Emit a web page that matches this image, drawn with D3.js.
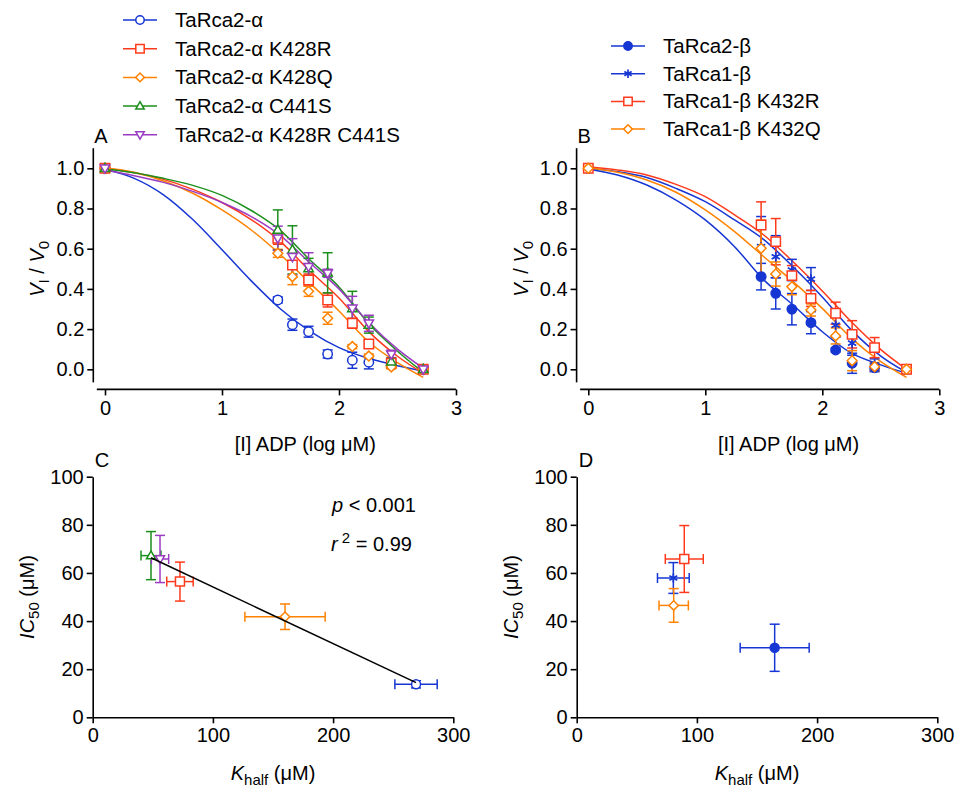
<!DOCTYPE html>
<html>
<head>
<meta charset="utf-8">
<script src="https://cdn.jsdelivr.net/npm/d3@7"></script>
<style>
  body { margin: 0; background: #fff; }
  svg { font-family: "Liberation Sans", Arial, Helvetica, sans-serif; }
</style>
</head>
<body>
<svg id="chart" width="955" height="788"></svg>
<script>
// ---- data ----
// inhibitor concentrations, log uM (first point = no ADP, plotted at 0)
const logADP = [0, 1.477, 1.602, 1.740, 1.903, 2.114, 2.255, 2.447, 2.720];
// x positions where the fitted curves were sampled
const fitX = [0, 0.25, 0.5, 0.75, 1.0, 1.25, 1.5, 1.75, 2.0, 2.25, 2.5, 2.72];

// panel A : TaRca2-alpha variants
const a2Y     = [1, 0.345, 0.222, 0.187, 0.076, 0.045, 0.035, 0.022, 0];
const a2Err   = [0, 0.015, 0.028, 0.027, 0.02, 0.04, 0.033, 0.01, 0.01];
const a2Fit   = [0.995, 0.95, 0.868, 0.745, 0.595, 0.44, 0.30, 0.19, 0.108, 0.055, 0.018, -0.008];

const k428rY   = [1, 0.652, 0.519, 0.444, 0.345, 0.229, 0.126, 0.03, 0];
const k428rErr = [0, 0.03, 0.06, 0.03, 0.035, 0.025, 0.02, 0.01, 0.01];
const k428rFit = [1.0, 0.978, 0.945, 0.895, 0.83, 0.745, 0.635, 0.49, 0.355, 0.19, 0.065, -0.02];

const k428qY   = [1, 0.577, 0.461, 0.388, 0.254, 0.113, 0.066, 0.012, 0];
const k428qErr = [0, 0.02, 0.04, 0.025, 0.03, 0.01, 0.01, 0.01, 0.01];
const k428qFit = [1.003, 0.98, 0.937, 0.876, 0.793, 0.693, 0.57, 0.43, 0.29, 0.138, 0.033, -0.04];

const c441sY   = [1, 0.693, 0.594, 0.502, 0.48, 0.303, 0.22, 0.038, 0];
const c441sErr = [0, 0.1, 0.12, 0.05, 0.1, 0.085, 0.04, 0.02, 0.01];
const c441sFit = [0.997, 0.978, 0.95, 0.915, 0.865, 0.79, 0.69, 0.545, 0.41, 0.23, 0.09, -0.015];

const dblY   = [1, 0.652, 0.56, 0.51, 0.478, 0.303, 0.229, 0.075, 0];
const dblErr = [0, 0.06, 0.09, 0.07, 0.02, 0.06, 0.04, 0.02, 0.01];
const dblFit = [0.99, 0.963, 0.93, 0.885, 0.83, 0.76, 0.665, 0.53, 0.40, 0.235, 0.10, 0.005];

// panel B : TaRca-beta variants
const b2Y   = [1, 0.461, 0.378, 0.299, 0.232, 0.096, 0.03, 0.008, 0];
const b2Err = [0, 0.066, 0.078, 0.078, 0.055, 0.01, 0.05, 0.02, 0.01];
const b2Fit = [0.997, 0.967, 0.917, 0.842, 0.743, 0.61, 0.445, 0.32, 0.187, 0.08, 0.022, -0.02];

const b1Y   = [1, 0.61, 0.56, 0.494, 0.449, 0.22, 0.13, 0.022, 0];
const b1Err = [0, 0.15, 0.105, 0.053, 0.057, 0.06, 0.06, 0.03, 0.02];
const b1Fit = [1.0, 0.983, 0.954, 0.90, 0.834, 0.743, 0.645, 0.51, 0.36, 0.195, 0.066, -0.015];

const k432rY   = [1, 0.718, 0.635, 0.466, 0.353, 0.279, 0.174, 0.108, 0];
const k432rErr = [0, 0.115, 0.115, 0.05, 0.04, 0.055, 0.068, 0.05, 0.02];
const k432rFit = [1.008, 0.992, 0.967, 0.92, 0.859, 0.768, 0.668, 0.535, 0.39, 0.235, 0.098, 0.0];

const k432qY   = [1, 0.602, 0.474, 0.411, 0.295, 0.166, 0.043, 0.013, 0];
const k432qErr = [0, 0.14, 0.06, 0.04, 0.03, 0.04, 0.05, 0.02, 0.01];
const k432qFit = [1.003, 0.98, 0.942, 0.881, 0.793, 0.685, 0.56, 0.436, 0.303, 0.154, 0.038, -0.04];

// panel C : Khalf vs IC50, alpha variants (a2, K428R, K428Q, C441S, K428R C441S)
const cKhalf    = [269, 72.6, 160, 48.5, 56];
const cKhalfErr = [17.6, 11, 33.4, 8.3, 7.2];
const cIC50     = [13.7, 56.4, 41.8, 67.2, 65.8];
const cIC50Err  = [1.5, 8.1, 5.3, 10, 9.8];
const regKhalf  = [48.5, 269];
const regIC50   = [66.3, 14.4];

// panel D : beta variants (Rca2-b, Rca1-b, K432R, K432Q)
const dKhalf    = [164.7, 80.4, 89.5, 80.7];
const dKhalfErr = [28.7, 13.2, 15.8, 12.2];
const dIC50     = [28.9, 57.9, 65.8, 46.5];
const dIC50Err  = [9.8, 6.4, 13.9, 7];

const yTicksTop = [0, 0.2, 0.4, 0.6, 0.8, 1.0];
const xTicksTop = [0, 1, 2, 3];
const yTicksBot = [0, 20, 40, 60, 80, 100];
const xTicksBot = [0, 100, 200, 300];

// ---- styling ----
const blue = "#1636d4", red = "#ff3a1c", orange = "#ff8200", green = "#1b8f1b", purple = "#9a3cc2";

const symbols = {
  circle:  { draw(c, s) { const r = Math.sqrt(s); c.moveTo(r, 0); c.arc(0, 0, r, 0, 2 * Math.PI); } },
  square:  { draw(c, s) { const r = Math.sqrt(s); c.rect(-r, -r, 2 * r, 2 * r); } },
  diamond: { draw(c, s) { const r = Math.sqrt(s) * 1.05; c.moveTo(0, -r); c.lineTo(r, 0); c.lineTo(0, r); c.lineTo(-r, 0); c.closePath(); } },
  triUp:   { draw(c, s) { const r = Math.sqrt(s); c.moveTo(0, -r * 1.05); c.lineTo(r, r * 0.7); c.lineTo(-r, r * 0.7); c.closePath(); } },
  triDown: { draw(c, s) { const r = Math.sqrt(s); c.moveTo(0, r * 1.05); c.lineTo(r, -r * 0.7); c.lineTo(-r, -r * 0.7); c.closePath(); } },
  star:    { draw(c, s) { const r = Math.sqrt(s);
    for (let k = 0; k < 3; k++) { const a = Math.PI / 2 + k * Math.PI / 3;
      c.moveTo(r * Math.cos(a), r * Math.sin(a)); c.lineTo(-r * Math.cos(a), -r * Math.sin(a)); } } }
};

const seriesA = [
  { name: "TaRca2-α",             color: blue,   sym: "circle",  filled: false, y: a2Y,    err: a2Err,    fit: a2Fit },
  { name: "TaRca2-α K428R",       color: red,    sym: "square",  filled: false, y: k428rY, err: k428rErr, fit: k428rFit },
  { name: "TaRca2-α K428Q",       color: orange, sym: "diamond", filled: false, y: k428qY, err: k428qErr, fit: k428qFit },
  { name: "TaRca2-α C441S",       color: green,  sym: "triUp",   filled: false, y: c441sY, err: c441sErr, fit: c441sFit },
  { name: "TaRca2-α K428R C441S", color: purple, sym: "triDown", filled: false, y: dblY,   err: dblErr,   fit: dblFit }
];
const seriesB = [
  { name: "TaRca2-β",       color: blue,   sym: "circle",  filled: true,  y: b2Y,    err: b2Err,    fit: b2Fit },
  { name: "TaRca1-β",       color: blue,   sym: "star",    filled: false, y: b1Y,    err: b1Err,    fit: b1Fit },
  { name: "TaRca1-β K432R", color: red,    sym: "square",  filled: false, y: k432rY, err: k432rErr, fit: k432rFit },
  { name: "TaRca1-β K432Q", color: orange, sym: "diamond", filled: false, y: k432qY, err: k432qErr, fit: k432qFit }
];

const svg = d3.select("#chart");
const tickFont = "20px", labelFont = "20px", legendFont = "20.5px";

function marker(g, s, cx, cy, r) {
  g.append("path")
    .attr("transform", `translate(${cx},${cy})`)
    .attr("d", d3.symbol(symbols[s.sym], r * r)())
    .attr("fill", s.filled ? s.color : (s.sym === "star" ? "none" : "#fff"))
    .attr("stroke", s.color)
    .attr("stroke-width", s.sym === "star" ? 1.7 : 1.5);
}

function vBar(g, x, y1, y2) {
  g.append("line").attr("x1", x).attr("x2", x).attr("y1", y1).attr("y2", y2);
  g.append("line").attr("x1", x - 5).attr("x2", x + 5).attr("y1", y1).attr("y2", y1);
  g.append("line").attr("x1", x - 5).attr("x2", x + 5).attr("y1", y2).attr("y2", y2);
}
function hBar(g, y, x1, x2) {
  g.append("line").attr("x1", x1).attr("x2", x2).attr("y1", y).attr("y2", y);
  g.append("line").attr("x1", x1).attr("x2", x1).attr("y1", y - 5).attr("y2", y + 5);
  g.append("line").attr("x1", x2).attr("x2", x2).attr("y1", y - 5).attr("y2", y + 5);
}

function styleAxis(a) {
  a.selectAll("text").style("font-size", tickFont).attr("fill", "#000");
  a.selectAll("line").attr("stroke", "#000").attr("stroke-width", 1.6);
  a.selectAll(".domain").attr("stroke", "#000").attr("stroke-width", 1.6);
}

// ---- top panels (dose response) ----
const yTop = d3.scaleLinear().domain([-0.1, 1.1]).range([389.4, 148.2]);

function drawCurvePanel(left, series, letter) {
  const x = d3.scaleLinear().domain([-0.1, 3]).range([left, left + 362.7]);
  const g = svg.append("g");

  const ax = g.append("g").attr("transform", `translate(0,${yTop(-0.1)})`)
    .call(d3.axisBottom(x).tickValues(xTicksTop).tickFormat(d3.format("d")).tickSize(6).tickSizeOuter(0).tickPadding(5));
  ax.select(".domain").remove();
  styleAxis(ax);
  g.append("line").attr("x1", x(-0.07)).attr("x2", x(3)).attr("y1", yTop(-0.1)).attr("y2", yTop(-0.1))
    .attr("stroke", "#000").attr("stroke-width", 1.6);

  const ay = g.append("g").attr("transform", `translate(${x(-0.1)},0)`)
    .call(d3.axisLeft(yTop).tickValues(yTicksTop).tickFormat(d3.format(".1f")).tickSize(6).tickSizeOuter(0).tickPadding(3));
  ay.select(".domain").remove();
  styleAxis(ay);
  g.append("line").attr("x1", x(-0.1)).attr("x2", x(-0.1)).attr("y1", yTop(1.1)).attr("y2", yTop(-0.065))
    .attr("stroke", "#000").attr("stroke-width", 1.6);

  const line = d3.line().x((d, i) => x(fitX[i])).y(d => yTop(d)).curve(d3.curveMonotoneX);
  series.forEach(s => {
    g.append("path").attr("d", line(s.fit)).attr("fill", "none").attr("stroke", s.color).attr("stroke-width", 1.5);
  });
  series.forEach(s => {
    const eb = g.append("g").attr("stroke", s.color).attr("stroke-width", 1.5);
    s.y.forEach((v, i) => { if (s.err[i] > 0) vBar(eb, x(logADP[i]), yTop(v - s.err[i]), yTop(v + s.err[i])); });
  });
  series.forEach(s => {
    s.y.forEach((v, i) => marker(g, s, x(logADP[i]), yTop(v), 4.7));
  });

  // axis titles
  const yl = g.append("text").attr("transform", `translate(${left - 49},${yTop(0.5)}) rotate(-90)`)
    .attr("text-anchor", "middle").style("font-size", labelFont);
  yl.append("tspan").attr("font-style", "italic").text("V");
  yl.append("tspan").attr("dy", 5).style("font-size", "15px").text("I");
  yl.append("tspan").attr("dy", -5).text(" / ");
  yl.append("tspan").attr("font-style", "italic").text("V");
  yl.append("tspan").attr("dy", 5).style("font-size", "15px").text("0");

  g.append("text").attr("x", left + 212).attr("y", 451).attr("text-anchor", "middle")
    .style("font-size", labelFont).text("[I] ADP (log μM)");

  g.append("text").attr("x", left + 1).attr("y", 143).style("font-size", labelFont).text(letter);
}

drawCurvePanel(93.3, seriesA, "A");
drawCurvePanel(576.6, seriesB, "B");

// ---- bottom panels (Khalf vs IC50) ----
const yBot = d3.scaleLinear().domain([0, 100]).range([717.3, 476.7]);

function drawScatterPanel(range, series, kh, khErr, ic, icErr, letter) {
  const x = d3.scaleLinear().domain([0, 300]).range(range);
  const g = svg.append("g");

  const ax = g.append("g").attr("transform", `translate(0,${yBot(0)})`)
    .call(d3.axisBottom(x).tickValues(xTicksBot).tickSize(6).tickSizeOuter(0).tickPadding(5));
  styleAxis(ax);
  const ay = g.append("g").attr("transform", `translate(${x(0)},0)`)
    .call(d3.axisLeft(yBot).tickValues(yTicksBot).tickSize(6).tickSizeOuter(0).tickPadding(3));
  styleAxis(ay);

  series.forEach((s, i) => {
    const eb = g.append("g").attr("stroke", s.color).attr("stroke-width", 1.5);
    vBar(eb, x(kh[i]), yBot(ic[i] - icErr[i]), yBot(ic[i] + icErr[i]));
    hBar(eb, yBot(ic[i]), x(kh[i] - khErr[i]), x(kh[i] + khErr[i]));
  });
  series.forEach((s, i) => marker(g, s, x(kh[i]), yBot(ic[i]), 4.5));

  const yl = g.append("text").attr("transform", `translate(${range[0] - 59},${yBot(50)}) rotate(-90)`)
    .attr("text-anchor", "middle").style("font-size", labelFont);
  yl.append("tspan").attr("font-style", "italic").text("IC");
  yl.append("tspan").attr("dy", 5).style("font-size", "15px").text("50");
  yl.append("tspan").attr("dy", -5).text(" (μM)");

  const xl = g.append("text").attr("x", (range[0] + range[1]) / 2).attr("y", 780)
    .attr("text-anchor", "middle").style("font-size", labelFont);
  xl.append("tspan").attr("font-style", "italic").text("K");
  xl.append("tspan").attr("dy", 5).style("font-size", "15px").text("half");
  xl.append("tspan").attr("dy", -5).text(" (μM)");

  g.append("text").attr("x", range[0] + 2).attr("y", 467).style("font-size", labelFont).text(letter);
  return { g, x };
}

const pc = drawScatterPanel([92.7, 453.3], seriesA, cKhalf, cKhalfErr, cIC50, cIC50Err, "C");
// regression line, drawn over the markers like the original
pc.g.append("path")
  .attr("d", d3.line().x((d, i) => pc.x(regKhalf[i])).y(d => yBot(d))(regIC50))
  .attr("stroke", "#000").attr("stroke-width", 1.5).attr("fill", "none");
const pt = pc.g.append("text").attr("x", 332).attr("y", 512).style("font-size", labelFont);
pt.append("tspan").attr("font-style", "italic").text("p");
pt.append("tspan").text(" < 0.001");
const rt = pc.g.append("text").attr("x", 331).attr("y", 551).style("font-size", labelFont);
rt.append("tspan").attr("font-style", "italic").text("r");
rt.append("tspan").attr("dy", -8).style("font-size", "15px").text(" 2");
rt.append("tspan").attr("dy", 8).text(" = 0.99");

drawScatterPanel([576.7, 937.3], seriesB, dKhalf, dKhalfErr, dIC50, dIC50Err, "D");

// ---- legends ----
function legend(series, x0, y0, step) {
  const g = svg.append("g");
  series.forEach((s, i) => {
    const y = y0 + i * step;
    g.append("line").attr("x1", x0).attr("x2", x0 + 34).attr("y1", y).attr("y2", y)
      .attr("stroke", s.color).attr("stroke-width", 1.5);
    marker(g, s, x0 + 17, y, 4.2);
    g.append("text").attr("x", x0 + 52).attr("y", y + 7).style("font-size", legendFont).text(s.name);
  });
}
legend(seriesA, 123, 20, 28.7);
legend(seriesB, 611, 46, 27.7);
</script>
</body>
</html>
